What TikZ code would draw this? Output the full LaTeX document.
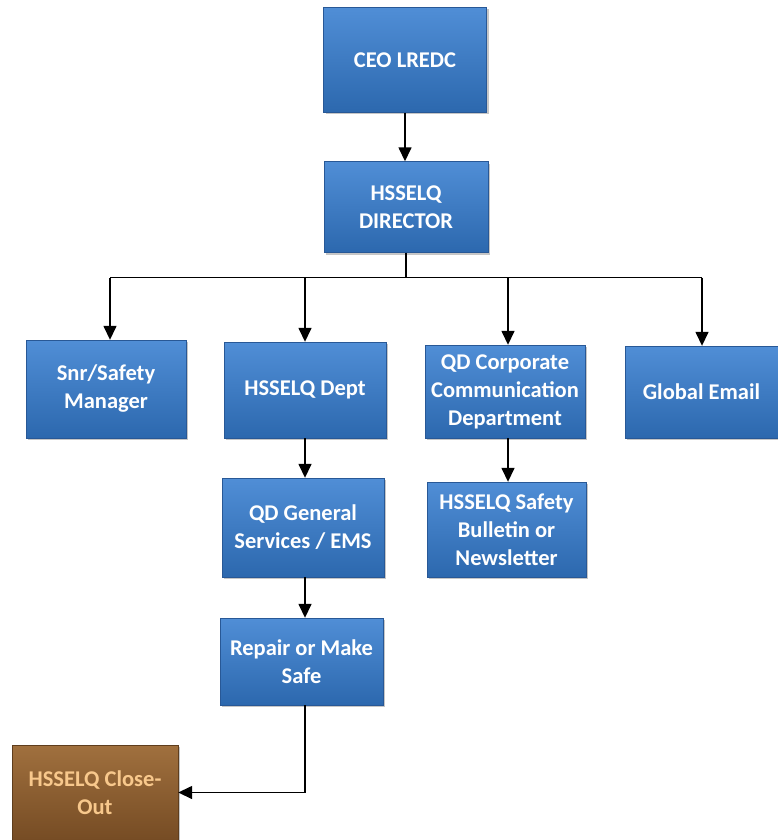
\documentclass[tikz,border=0pt]{standalone}
\usepackage{fontspec}
\setmainfont{Carlito}
\usetikzlibrary{arrows.meta,shadows}
\definecolor{boxtop}{RGB}{80,142,214}
\definecolor{boxbot}{RGB}{44,104,174}
\definecolor{boxedge}{RGB}{40,88,150}
\definecolor{closetop}{RGB}{160,112,62}
\definecolor{closebot}{RGB}{118,76,36}
\definecolor{closetext}{RGB}{248,200,140}
\begin{document}
\begin{tikzpicture}[x=1pt,y=1pt,
				box/.style={rectangle,draw=boxedge,top color=boxtop,bottom color=boxbot,
					text=white,font=\bfseries\fontsize{22.5}{28}\selectfont,align=center,
					minimum width=160pt,minimum height=95pt,inner sep=1pt,
					drop shadow={opacity=0.45,shadow xshift=2pt,shadow yshift=-2pt}},
				closebox/.style={box,draw=closebot!80!black,top color=closetop,bottom color=closebot,text=closetext},
				arr/.style={-{Triangle[width=13pt,length=14pt]},line width=1.5pt},
				bar/.style={line width=1.5pt}]
\useasboundingbox (0,0) rectangle (778,-840);
\node[box,minimum width=163pt,minimum height=105pt] (ceo) at (405,-60) {CEO LREDC};
\node[box,minimum width=164pt,minimum height=91pt] (dir) at (406,-207) {HSSELQ\\DIRECTOR};
\node[box,minimum height=98pt] (snr) at (106,-389) {Snr/Safety\\Manager};
\node[box,minimum width=162pt,minimum height=96pt] (dept) at (305,-390) {HSSELQ Dept};
\node[box,minimum height=93pt] (comm) at (505,-391.5) {QD Corporate\\Communication\\Department};
\node[box,minimum width=153pt,minimum height=92pt] (email) at (701.5,-392) {Global Email};
\node[box,minimum width=162pt,minimum height=99pt] (gen) at (303,-527.5) {QD General\\Services / EMS};
\node[box,minimum width=159pt] (bull) at (506.5,-529.5) {HSSELQ Safety\\Bulletin or\\Newsletter};
\node[box,minimum width=163pt,minimum height=87pt] (rep) at (301.5,-661.5) {Repair or Make\\Safe};
\node[closebox,minimum width=166pt] (close) at (95,-792.5) {HSSELQ Close-\\Out};

\draw[arr] (ceo.south) -- (ceo.south |- dir.north);
\draw[bar] (dir.south) -- ++(0,-25) coordinate (bus);
\draw[bar] (bus -| 110,0) coordinate (busl) -- (bus -| 702,0) coordinate (busr);
\draw[arr] (busl) -- (busl |- snr.north);
\draw[arr] (bus -| dept) coordinate (busd) -- (dept.north);
\draw[arr] (bus -| 508,0) coordinate (busc) -- (busc |- comm.north);
\draw[arr] (busr) -- (busr |- email.north);
\draw[arr] (dept.south) -- (busd |- gen.north);
\draw[arr] (comm.south -| busc) -- (busc |- bull.north);
\draw[arr] (gen.south -| busd) -- (busd |- rep.north);
\draw[arr] (rep.south -| busd) |- (close.east);
\end{tikzpicture}
\end{document}
